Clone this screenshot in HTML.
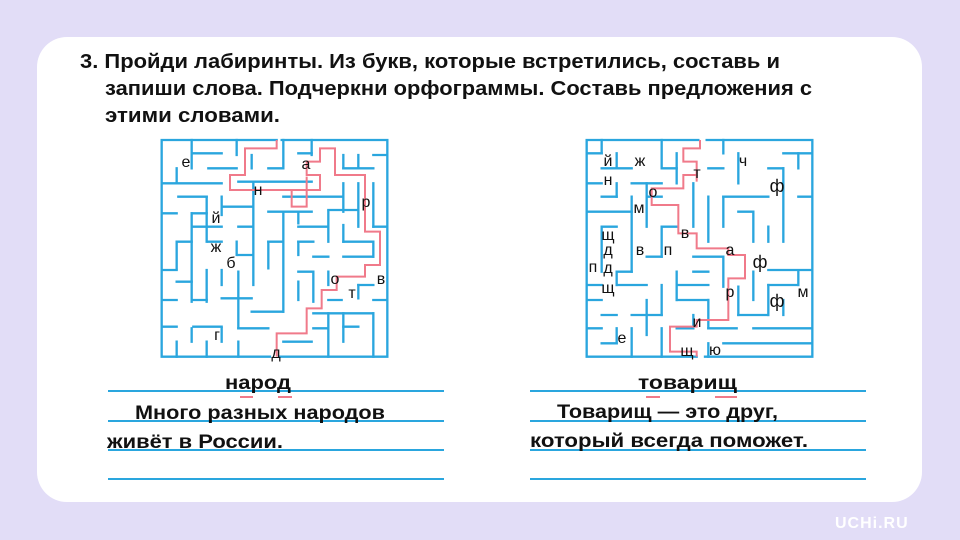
<!DOCTYPE html>
<html><head><meta charset="utf-8"><style>
html,body{margin:0;padding:0;width:960px;height:540px;overflow:hidden;background:#e2ddf7;}
svg{display:block}
.t{font-family:"Liberation Sans","DejaVu Sans",sans-serif;font-weight:bold;font-size:20px;fill:#111}
.l{font-family:"Liberation Sans","DejaVu Sans",sans-serif;font-size:16px;fill:#111;text-anchor:middle}
</style></head><body>
<svg width="960" height="540" viewBox="0 0 960 540">
<rect x="37" y="37" width="885" height="465" rx="30" fill="#fff"/>
<text x="835" y="528" font-family="Liberation Sans,sans-serif" font-weight="bold" font-size="16" fill="#fff" letter-spacing="1">UCHi.RU</text>
<text class="t" x="80" y="68" textLength="700" lengthAdjust="spacingAndGlyphs">3. Пройди лабиринты. Из букв, которые встретились, составь и</text>
<text class="t" x="105" y="95" textLength="707" lengthAdjust="spacingAndGlyphs">запиши слова. Подчеркни орфограммы. Составь предложения с</text>
<text class="t" x="105" y="122" textLength="175" lengthAdjust="spacingAndGlyphs">этими словами.</text>

<!-- maze 1 -->
<svg x="155" y="135" width="240" height="230" viewBox="0 0 720 690">
<g stroke="#2aa6de" stroke-width="7" fill="none" stroke-linecap="square">
<path d="M20 15 H365 M380 15 H697 V665 H375 M345 665 H20 V15"/>
<path d="M160 100 H245 M110 55 H200 M20 145 H200 M70 185 H155 M20 235 H65 M110 235 H155 M205 215 H290 M115 275 H200 M250 275 H290 M65 320 H110 M160 320 H200 M250 360 H290 M20 405 H65 M65 440 H110 M20 495 H65 M110 495 H155 M200 490 H290 M20 575 H65 M115 575 H200 M250 580 H340 M290 530 H385 M340 320 H385 M340 230 H470 M385 185 H560 M430 275 H520 M430 320 H475 M475 365 H520 M565 320 H655 M565 365 H655 M430 410 H470 M520 495 H560 M475 535 H560 M565 535 H655 M565 575 H610 M385 620 H470 M475 580 H520 M610 450 H655 M655 495 H697 M655 60 H697 M565 100 H655 M520 225 H610 M655 275 H697 M250 140 H470 M340 100 H385 M430 55 H470"/>
<path d="M65 100 V140 M110 15 V100 M245 15 V60 M290 60 V100 M200 185 V240 M155 185 V320 M110 235 V500 M65 320 V400 M155 405 V500 M200 405 V450 M245 320 V360 M250 410 V580 M295 140 V450 M340 320 V400 M385 230 V530 M385 15 V100 M430 230 V265 M430 320 V360 M475 410 V500 M520 230 V320 M565 145 V230 M565 270 V320 M610 145 V275 M655 145 V275 M655 320 V365 M610 450 V490 M520 535 V665 M565 535 V620 M655 535 V665 M470 15 V60 M565 60 V100 M610 60 V100 M65 620 V665 M110 580 V620 M155 620 V665 M200 580 V620 M250 620 V665 M430 440 V495 M520 410 V450"/>
</g>
<g stroke="#f07a8a" stroke-width="6" fill="none">
<path d="M365 15 V40 H270 V120 H225 V165 H495 V120 H455 V80 H495 V40 H540 V120 H630 V290 H675 V390 H630 V425 H545 V465 H500 V520 H455 V595 H365 V665"/>
<path d="M410 165 V215 H455 V125"/>
</g>
</svg>
<g class="l">
<text x="186" y="167">е</text><text x="306" y="169">а</text><text x="258" y="195">н</text><text x="366" y="207">р</text>
<text x="216" y="223">й</text><text x="216" y="252">ж</text><text x="231" y="268">б</text><text x="335" y="284">о</text>
<text x="381" y="284">в</text><text x="352" y="298">т</text><text x="217" y="340">г</text><text x="276" y="358">д</text>
</g>

<!-- maze 2 -->
<svg x="580" y="135" width="240" height="230" viewBox="0 0 720 690">
<g stroke="#2aa6de" stroke-width="7" fill="none" stroke-linecap="square">
<path d="M20 15 H355 M380 15 H697 V665 H375 M350 665 H20 V15"/>
<path d="M20 55 H65 M65 100 H155 M20 145 H65 M65 185 H110 M155 145 H245 M245 100 H290 M20 230 H155 M65 275 H110 M20 450 H65 M110 410 H155 M110 450 H200 M20 495 H65 M65 540 H110 M20 580 H65 M65 625 H110 M155 540 H245 M200 365 H245 M290 450 H385 M290 495 H385 M340 410 H385 M340 365 H430 M430 185 H565 M475 230 H520 M565 100 H610 M610 55 H697 M655 185 H697 M565 405 H697 M565 450 H655 M475 540 H565 M520 580 H697 M430 625 H697 M385 580 H470 M290 580 H340 M385 100 H430 M200 185 H245 M245 275 H290"/>
<path d="M65 15 V55 M110 55 V100 M110 145 V185 M155 185 V410 M200 145 V275 M245 15 V100 M245 275 V365 M290 55 V145 M340 145 V275 M385 185 V320 M430 15 V55 M475 55 V145 M430 185 V275 M520 230 V320 M520 410 V495 M565 275 V320 M610 100 V320 M655 55 V100 M655 410 V450 M610 495 V540 M565 450 V540 M430 365 V455 M475 455 V540 M290 410 V495 M245 450 V540 M200 495 V600 M110 580 V625 M155 580 V665 M245 580 V665 M385 495 V580 M385 625 V665 M340 540 V580 M65 275 V410 M110 410 V450"/>
</g>
<g stroke="#f07a8a" stroke-width="6" fill="none">
<path d="M360 15 V40 H310 V80 H350 V120 H310 V160 H215 V210 H295 V295 H350 V340 H445 V360 H495 V430 H445 V555 H350 V575 H270 V650 H350 V665"/>
<path d="M350 120 V140"/>
</g>
</svg>
<g class="l">
<text x="608" y="166">й</text><text x="640" y="166">ж</text><text x="743" y="166">ч</text><text x="697" y="178">т</text>
<text x="608" y="185">н</text><text x="653" y="197">о</text><text x="777" y="192" font-size="18">ф</text><text x="639" y="213">м</text>
<text x="608" y="240">щ</text><text x="608" y="255">д</text><text x="593" y="272">п</text><text x="608" y="273">д</text>
<text x="640" y="255">в</text><text x="668" y="255">п</text><text x="685" y="238">в</text><text x="730" y="255">а</text>
<text x="760" y="268" font-size="18">ф</text><text x="608" y="293">щ</text><text x="730" y="297">р</text><text x="777" y="307" font-size="18">ф</text>
<text x="803" y="297">м</text><text x="697" y="327">и</text><text x="622" y="343">е</text><text x="687" y="356">щ</text><text x="715" y="355">ю</text>
</g>

<!-- writing lines -->
<g stroke="#2aa6de" stroke-width="2">
<path d="M108 391 H444 M108 421 H444 M108 450 H444 M108 479 H444"/>
<path d="M530 391 H866 M530 421 H866 M530 450 H866 M530 479 H866"/>
</g>
<g class="t">
<text x="225" y="389" font-size="19" textLength="66" lengthAdjust="spacingAndGlyphs">народ</text>
<text x="135" y="419" font-size="19" textLength="250" lengthAdjust="spacingAndGlyphs">Много разных народов</text>
<text x="107" y="448" font-size="19" textLength="176" lengthAdjust="spacingAndGlyphs">живёт в России.</text>
<text x="638" y="389" font-size="19" textLength="99" lengthAdjust="spacingAndGlyphs">товарищ</text>
<text x="557" y="418" font-size="19" textLength="221" lengthAdjust="spacingAndGlyphs">Товарищ — это друг,</text>
<text x="530" y="447" font-size="19" textLength="278" lengthAdjust="spacingAndGlyphs">который всегда поможет.</text>
</g>
<g stroke="#f07a8a" stroke-width="2">
<path d="M240 397 H253 M278 397 H292 M646 397 H660 M715 397 H737"/>
</g>
</svg>
</body></html>
